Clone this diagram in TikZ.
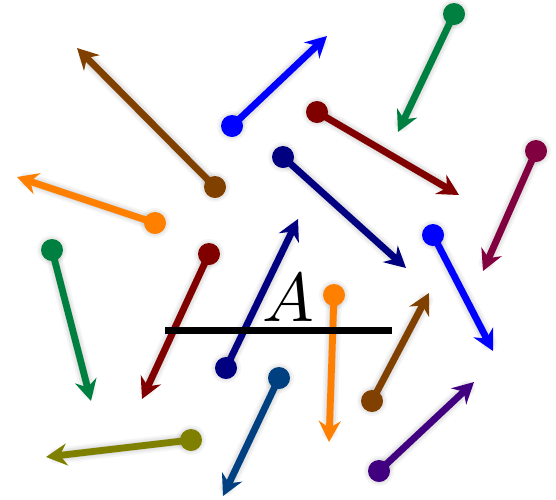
\documentclass[tikz,border=0pt]{standalone}
\usetikzlibrary{arrows.meta,calc}
\definecolor{cbrown}{RGB}{128,64,0}
\definecolor{cblue}{RGB}{0,0,255}
\definecolor{cgreen}{RGB}{0,128,64}
\definecolor{cmaroon}{RGB}{128,0,0}
\definecolor{cnavy}{RGB}{0,0,128}
\definecolor{cwine}{RGB}{128,0,64}
\definecolor{corange}{RGB}{255,128,0}
\definecolor{csteel}{RGB}{0,64,128}
\definecolor{colive}{RGB}{128,128,0}
\definecolor{cindigo}{RGB}{64,0,128}
\tikzset{
  shaft/.style={line width=6.8pt,-{Stealth[length=21pt,width=22pt,inset=7pt]}},
  shadowline/.style={black,line cap=round,xshift=3.5pt,yshift=-3.5pt},
  barline/.style={line width=7pt,black}
}
\begin{document}
\begin{tikzpicture}[x=1pt,y=-1pt]
\useasboundingbox (0,0) rectangle (556,499);
% start (dot) and end (tip) coordinates
\coordinate (s1) at (215,187);  \coordinate (e1) at (77,48);
\coordinate (s2) at (232,126);  \coordinate (e2) at (327,36);
\coordinate (s3) at (454,14);   \coordinate (e3) at (398,132);
\coordinate (s4) at (317,112);  \coordinate (e4) at (459,195);
\coordinate (s5) at (283,157);  \coordinate (e5) at (406,268);
\coordinate (s6) at (536,151);  \coordinate (e6) at (483,271);
\coordinate (s7) at (155,223);  \coordinate (e7) at (17,177);
\coordinate (s8) at (52,250);   \coordinate (e8) at (91,401);
\coordinate (s9) at (209,254);  \coordinate (e9) at (142,399);
\coordinate (s10) at (226,368); \coordinate (e10) at (298,219);
\coordinate (s11) at (334,295); \coordinate (e11) at (329,442);
\coordinate (s12) at (433,235); \coordinate (e12) at (493,351);
\coordinate (s13) at (372,401); \coordinate (e13) at (429,293);
\coordinate (s14) at (279,378); \coordinate (e14) at (223,496);
\coordinate (s15) at (191,440); \coordinate (e15) at (46,457);
\coordinate (s16) at (379,471); \coordinate (e16) at (474,382);
% shadows
\foreach \i in {1,...,16}{
  \foreach \w/\o in {16/0.04,12/0.05,8/0.07}{
    \draw[shadowline,opacity=\o,line width=\w pt] (s\i) -- ($(s\i)!0.93!(e\i)$);
  }
  \foreach \r/\o in {15/0.04,13/0.05,11/0.07}{
    \fill[shadowline,opacity=\o] (s\i) circle (\r pt);
  }
}
% arrows
\foreach \i/\c in {1/cbrown,2/cblue,3/cgreen,4/cmaroon,5/cnavy,6/cwine,7/corange,8/cgreen,9/cmaroon,10/cnavy,11/corange,12/cblue,13/cbrown,14/csteel,15/colive,16/cindigo}{
  \fill[\c] (s\i) circle (11pt);
  \draw[\c,shaft] (s\i) -- (e\i);
}
% bar and label
\coordinate (b1) at (165,330.5);
\coordinate (b2) at (392,330.5);
\draw[barline] (b1) -- (b2);
\node[anchor=base,inner sep=0pt,scale=6.9] (lab) at (288,321) {$A$};
\end{tikzpicture}
\end{document}
